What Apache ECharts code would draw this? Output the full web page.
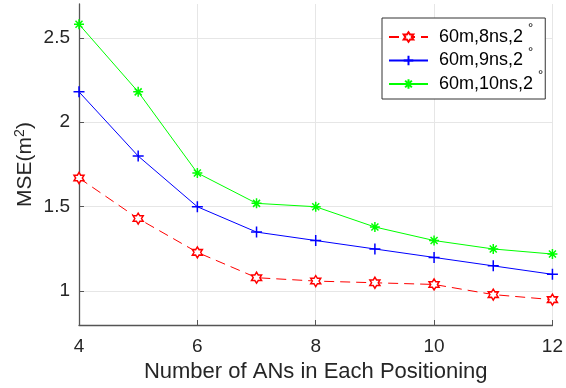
<!DOCTYPE html>
<html>
<head>
<meta charset="utf-8">
<script src="https://cdn.jsdelivr.net/npm/echarts@6/dist/echarts.min.js"></script>
<style>html,body{margin:0;padding:0;background:#fff}#c{width:566px;height:388px}</style>
</head>
<body>
<div id="c"></div>
<script>
const xValues = [4, 5, 6, 7, 8, 9, 10, 11, 12];
const red8ns = [1.67, 1.43, 1.23, 1.08, 1.06, 1.05, 1.04, 0.98, 0.95];
const blue9ns = [2.18, 1.80, 1.50, 1.35, 1.30, 1.25, 1.20, 1.15, 1.10];
const green10ns = [2.58, 2.18, 1.70, 1.52, 1.50, 1.38, 1.30, 1.25, 1.22];
const seriesNames = ['60m,8ns,2', '60m,9ns,2', '60m,10ns,2'];
const yTicks = [1, 1.5, 2, 2.5];
const xTicks = [4, 6, 8, 10, 12];

const FONT = "'Liberation Sans', Arial, Helvetica, sans-serif";
const hexagram = 'path://M0 -1 L0.289 -0.5 L0.866 -0.5 L0.577 0 L0.866 0.5 L0.289 0.5 L0 1 L-0.289 0.5 L-0.866 0.5 L-0.577 0 L-0.866 -0.5 L-0.289 -0.5 Z';
const plus = 'path://M0 -1 L0 1 M-1 0 L1 0';
const asterisk = 'path://M0 -1 L0 1 M-1 0 L1 0 M-0.7 -0.7 L0.7 0.7 M-0.7 0.7 L0.7 -0.7';

function pairs(vals) { return xValues.map((x, i) => [x, vals[i]]); }

const chart = echarts.init(document.getElementById('c'), null, {renderer: 'canvas'});
chart.setOption({
  animation: false,
  backgroundColor: '#fff',
  textStyle: {fontFamily: FONT},
  grid: {left: 79, right: 8, top: 4, bottom: 61, containLabel: false},
  legend: {
    orient: 'vertical',
    left: 382, top: 18,
    padding: [4, 2, 5, 6],
    itemWidth: 39, itemHeight: 12, itemGap: -1.5,
    backgroundColor: '#fff',
    borderColor: '#333', borderWidth: 1, borderRadius: 0,
    data: seriesNames,
    formatter: name => '{a|' + name + '}{d|°}',
    textStyle: {
      color: '#000', fontFamily: FONT, fontSize: 18, lineHeight: 20,
      rich: {
        a: {fontSize: 18, fontFamily: FONT, color: '#000', padding: [0, 0, 0, 6], lineHeight: 20},
        d: {fontSize: 13, fontFamily: FONT, color: '#000', verticalAlign: 'top', lineHeight: 13, padding: [-5, 0, 0, 5]}
      }
    }
  },
  xAxis: {
    type: 'value', min: 4, max: 12, interval: 2,
    name: 'Number of ANs in Each Positioning',
    nameLocation: 'middle', nameGap: 36, nameMoveOverlap: false,
    nameTextStyle: {fontSize: 22, color: '#262626', fontFamily: FONT},
    axisLine: {show: true, lineStyle: {color: '#555', width: 1.3}},
    axisTick: {show: true, inside: true, length: 5, lineStyle: {color: '#555'}},
    axisLabel: {fontSize: 19, color: '#262626', margin: 12, fontFamily: FONT},
    splitLine: {show: true, lineStyle: {color: '#e6e6e6', width: 1}}
  },
  yAxis: {
    type: 'value', min: 0.8, max: 2.7,
    name: 'MSE(m{s|2})',
    nameLocation: 'middle', nameGap: 42, nameRotate: 90, nameMoveOverlap: false,
    nameTextStyle: {fontSize: 21, color: '#262626', fontFamily: FONT,
      rich: {s: {fontSize: 14, fontFamily: FONT, color: '#262626', padding: [0, 0, 10, 0]}}},
    axisLine: {show: true, lineStyle: {color: '#555', width: 1.3}},
    axisTick: {show: true, inside: true, length: 5, customValues: yTicks, lineStyle: {color: '#555'}},
    axisLabel: {fontSize: 19, color: '#262626', margin: 9, customValues: yTicks, fontFamily: FONT},
    splitLine: {show: true, lineStyle: {color: '#e6e6e6', width: 1}}
  },
  series: [
    {
      name: seriesNames[0], type: 'line', data: pairs(red8ns),
      symbol: hexagram, symbolSize: [10, 11],
      lineStyle: {color: '#ff0000', width: 1, type: [10, 6]},
      itemStyle: {color: '#fff', borderColor: '#ff0000', borderWidth: 1.5},
      z: 4
    },
    {
      name: seriesNames[1], type: 'line', data: pairs(blue9ns),
      symbol: plus, symbolSize: 11,
      lineStyle: {color: '#0000ff', width: 1},
      itemStyle: {color: '#0000ff', borderColor: '#0000ff', borderWidth: 1.5},
      z: 3
    },
    {
      name: seriesNames[2], type: 'line', data: pairs(green10ns),
      symbol: asterisk, symbolSize: 10,
      lineStyle: {color: '#00ff00', width: 1},
      itemStyle: {color: '#00ff00', borderColor: '#00ff00', borderWidth: 1.5},
      z: 2
    }
  ]
});
</script>
</body>
</html>
